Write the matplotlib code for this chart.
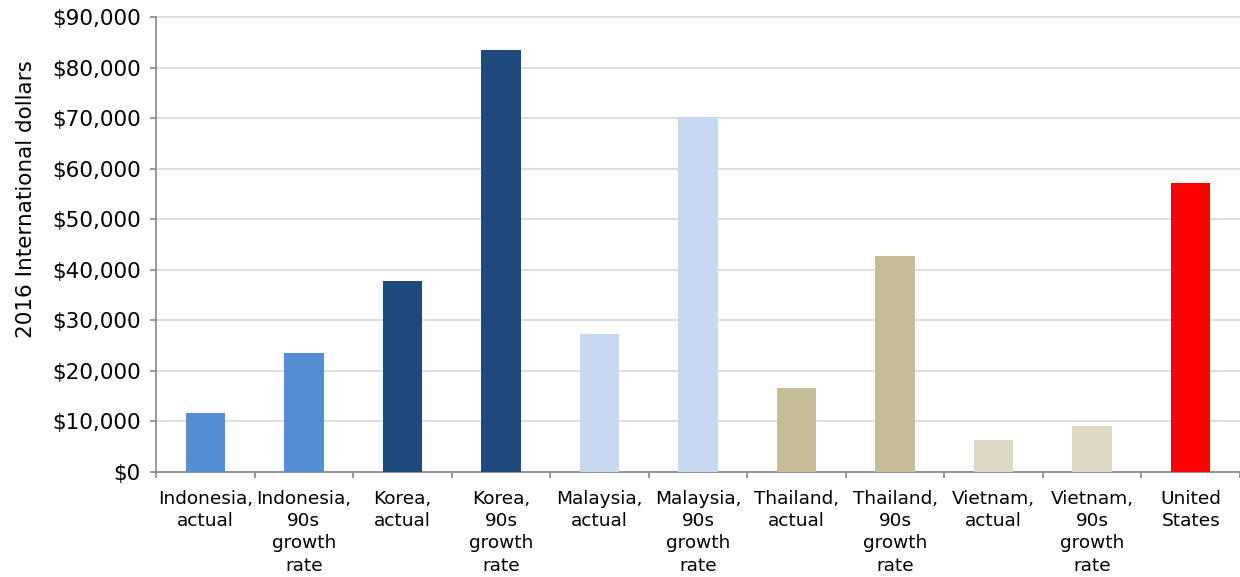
import matplotlib.pyplot as plt
from matplotlib.ticker import FuncFormatter
import numpy as np

categories = [
    "Indonesia,\nactual", "Indonesia,\n90s\ngrowth\nrate",
    "Korea,\nactual", "Korea,\n90s\ngrowth\nrate",
    "Malaysia,\nactual", "Malaysia,\n90s\ngrowth\nrate",
    "Thailand,\nactual", "Thailand,\n90s\ngrowth\nrate",
    "Vietnam,\nactual", "Vietnam,\n90s\ngrowth\nrate",
    "United\nStates",
]
gdp_per_capita = [11650, 23500, 37800, 83450, 27300, 70200,
                  16600, 42700, 6330, 9100, 57150]
bar_colors = ["#558ED5", "#558ED5", "#1F497D", "#1F497D", "#C6D9F1", "#C6D9F1",
              "#C4BD97", "#C4BD97", "#DDD9C4", "#DDD9C4", "#FF0000"]

plt.rcParams['font.family'] = ['DejaVu Sans']
fig = plt.figure(figsize=(12.4, 5.77), dpi=100)
ax = fig.add_axes([0.1258, 0.182, 0.8742, 0.7885])

x = np.arange(len(categories))
ax.bar(x, gdp_per_capita, width=0.4, color=bar_colors, zorder=3)

ax.set_xlim(-0.5, len(categories) - 0.5)
ax.set_ylim(0, 90000)
ax.set_yticks(np.arange(0, 90001, 10000))
ax.yaxis.set_major_formatter(FuncFormatter(lambda v, _: f"${v:,.0f}"))
ax.grid(axis='y', color='#d9d9d9', linewidth=1.2, zorder=0, clip_on=False)

# category labels centred on bars, tick marks between categories
ax.set_xticks(x)
ax.set_xticklabels(categories, fontsize=13.3, linespacing=1.3)
ax.tick_params(axis='x', length=0, pad=13)
ax.set_xticks(np.arange(-0.5, len(categories) + 0.5, 1), minor=True)
ax.tick_params(axis='x', which='minor', length=4, color='#888888', width=1.2)
ax.tick_params(axis='y', length=4, color='#888888', width=1.2, labelsize=15.5, pad=7)

for side in ['top', 'right']:
    ax.spines[side].set_visible(False)
for side in ['left', 'bottom']:
    ax.spines[side].set_color('#888888')
    ax.spines[side].set_linewidth(1.2)

ax.set_ylabel("2016 International dollars", fontsize=15.5)
ax.yaxis.set_label_coords(-0.111, 0.6)

fig.savefig("out.png", dpi=100)
